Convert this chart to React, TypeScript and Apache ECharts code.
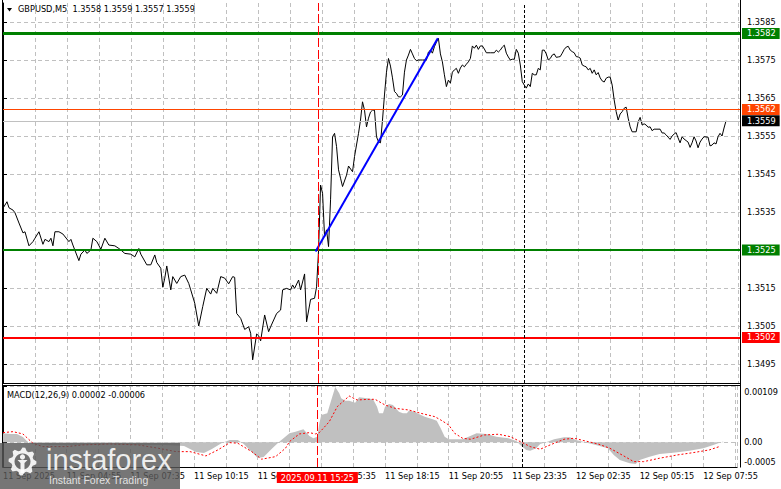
import React, { useEffect, useRef } from 'react';
import * as echarts from 'echarts';

const FONT = 'DejaVu Sans';
const FS = 8.2;

// ---- x axis (bar index, 5-minute bars) ----
const xMax = 369;
const xTickIndex = [0, 32, 64, 96, 128, 160, 192, 224, 256, 288, 320, 352];
const xTickLabels = [
  '11 Sep 2025', '11 Sep 04:55', '11 Sep 07:35', '11 Sep 10:15', '11 Sep 12:55', '11 Sep 15:35',
  '11 Sep 18:15', '11 Sep 20:55', '11 Sep 23:35', '12 Sep 02:35', '12 Sep 05:15', '12 Sep 07:55',
];

// ---- price pane ----
const priceMin = 1.349;
const priceMax = 1.359;
const priceTicks = [1.3495, 1.3505, 1.3515, 1.3525, 1.3535, 1.3545, 1.3555, 1.3565, 1.3575, 1.3585];

const price: [number, number][] = [
  [0, 1.3536], [2, 1.35377], [3, 1.35361], [5, 1.35355], [6, 1.35348], [8, 1.35321], [10, 1.35295], [11, 1.35298],
  [13, 1.35261], [15, 1.35272], [16, 1.35281], [18, 1.35298], [20, 1.35265], [21, 1.35278], [23, 1.35272], [24, 1.35281],
  [25, 1.35261], [26, 1.35298], [28, 1.35298], [30, 1.35292], [33, 1.35272], [34, 1.35278], [35, 1.35263], [38, 1.35222],
  [39, 1.35239], [41, 1.3525], [42, 1.35241], [44, 1.3525], [45, 1.35281], [47, 1.35272], [49, 1.35252], [51, 1.35281],
  [53, 1.35263], [56, 1.35261], [58, 1.35254], [59, 1.3525], [61, 1.35241], [64, 1.35239], [66, 1.35232], [68, 1.35254],
  [69, 1.35239], [72, 1.35211], [74, 1.35211], [76, 1.35237], [77, 1.35217], [79, 1.35202], [80, 1.35152], [81, 1.35176],
  [82, 1.35208], [84, 1.35145], [85, 1.3518], [87, 1.35162], [89, 1.3518], [91, 1.35184], [93, 1.35162], [94, 1.35145],
  [96, 1.3511], [98, 1.3505], [100, 1.35101], [102, 1.35149], [104, 1.35134], [105, 1.35149], [107, 1.35136], [109, 1.3518],
  [111, 1.35176], [113, 1.35161], [115, 1.3518], [116, 1.35178], [117, 1.35083], [119, 1.3507], [121, 1.35041], [123, 1.35048],
  [124, 1.35031], [125, 1.34961], [127, 1.35029], [128, 1.35024], [129, 1.35011], [131, 1.35079], [133, 1.35035], [134, 1.35048],
  [137, 1.35083], [139, 1.35092], [140, 1.35145], [142, 1.35149], [144, 1.35145], [145, 1.35158], [146, 1.35149], [148, 1.35171],
  [149, 1.35145], [151, 1.35187], [152, 1.35061], [154, 1.3512], [156, 1.35123], [157, 1.35153], [158, 1.3525],
  [159, 1.35421], [160, 1.35399], [161, 1.35285], [162, 1.35303], [163, 1.35259], [164, 1.35382], [165, 1.35548], [166, 1.35557],
  [167, 1.35522], [168, 1.35461], [169, 1.35439], [170, 1.35417], [172, 1.35447], [173, 1.35471], [175, 1.35456], [176, 1.35496],
  [178, 1.35557], [179, 1.35592], [180, 1.3564], [181, 1.35618], [182, 1.35574], [183, 1.35597], [184, 1.35613], [185, 1.35618],
  [186, 1.35618], [187, 1.35548], [188, 1.35535], [189, 1.35532], [190, 1.35592], [191, 1.35658], [192, 1.35718], [193, 1.35754],
  [194, 1.35734], [195, 1.35703], [196, 1.35667], [197, 1.35662], [198, 1.35653], [199, 1.35653], [200, 1.35658], [201, 1.35718],
  [202, 1.3575], [203, 1.35763], [204, 1.35778], [205, 1.35766], [206, 1.35754], [207, 1.35748], [208, 1.3575], [210, 1.3575],
  [212, 1.3575], [213, 1.35771], [214, 1.35776], [215, 1.35768], [216, 1.35785], [217, 1.35797], [218, 1.35807], [219, 1.35766],
  [220, 1.35745], [221, 1.35711], [222, 1.3568], [223, 1.35697], [224, 1.35689], [225, 1.35718], [226, 1.35724], [227, 1.35728],
  [228, 1.35715], [229, 1.35729], [230, 1.35737], [231, 1.35732], [232, 1.35739], [233, 1.35745], [234, 1.35754], [235, 1.35787],
  [236, 1.35781], [237, 1.35789], [238, 1.35778], [239, 1.35787], [240, 1.35787], [241, 1.35779], [242, 1.35769], [244, 1.35769],
  [246, 1.35769], [247, 1.35776], [248, 1.35771], [249, 1.35776], [250, 1.35784], [251, 1.35789], [252, 1.35768], [253, 1.35758],
  [254, 1.3575], [255, 1.35752], [256, 1.35752], [257, 1.35778], [258, 1.35768], [259, 1.35737], [260, 1.35693], [261, 1.35684],
  [262, 1.35676], [263, 1.35687], [264, 1.3568], [265, 1.35715], [266, 1.35711], [267, 1.35711], [268, 1.35728], [269, 1.35724],
  [270, 1.35776], [271, 1.35776], [272, 1.35766], [273, 1.3575], [274, 1.35754], [275, 1.35763], [276, 1.35766], [277, 1.35757],
  [278, 1.35758], [279, 1.35759], [280, 1.35768], [281, 1.35778], [282, 1.35784], [283, 1.35786], [284, 1.35776], [285, 1.35772],
  [286, 1.35769], [287, 1.35759], [288, 1.35758], [289, 1.35755], [290, 1.35737], [291, 1.35734], [292, 1.35732], [293, 1.35724],
  [294, 1.35728], [295, 1.35715], [296, 1.35724], [297, 1.35711], [298, 1.35717], [299, 1.35703], [300, 1.35695], [301, 1.35692],
  [302, 1.35702], [303, 1.35705], [304, 1.35705], [305, 1.35684], [306, 1.35645], [307, 1.35614], [308, 1.35592], [309, 1.35608],
  [310, 1.35614], [311, 1.35623], [312, 1.35626], [313, 1.35597], [314, 1.35574], [315, 1.35561], [317, 1.35561], [318, 1.35587],
  [319, 1.35599], [320, 1.35579], [321, 1.35582], [322, 1.35579], [323, 1.35573], [324, 1.35574], [325, 1.35564], [326, 1.35568],
  [329, 1.35568], [330, 1.35558], [331, 1.35558], [332, 1.35553], [333, 1.35547], [334, 1.35541], [335, 1.3555], [336, 1.35555],
  [337, 1.35559], [338, 1.35545], [339, 1.35532], [340, 1.35548], [341, 1.35542], [342, 1.35538], [343, 1.35534], [344, 1.3552],
  [345, 1.35532], [346, 1.35548], [347, 1.35537], [348, 1.35519], [349, 1.35534], [350, 1.35542], [351, 1.35548], [353, 1.35547],
  [354, 1.35524], [355, 1.35526], [356, 1.35532], [357, 1.35529], [358, 1.35548], [359, 1.35557], [360, 1.3555], [361, 1.35571],
  [362, 1.3559],
];

const levelValues = [1.3582, 1.3562, 1.3559, 1.3525, 1.3502];
const levelLineColors = ['#008000', '#ff4500', '#c0c0c0', '#008000', '#ff0000'];
const levelBoxColors = ['#008000', '#ff4500', '#000000', '#008000', '#ff0000'];
const levelWidths = [3, 1, 1, 2, 2];

const trendLine: [number, number][] = [[156.5, 1.35246], [217.7, 1.35807]];
const sessionMarkIndex = 158;
const sessionMarkLabel = '2025.09.11 15:25';
const daySeparatorIndex = 261;

// ---- MACD pane ----
const macdMin = -0.00048;
const macdMax = 0.00109;
const macdLabelValues = [macdMin, 0, macdMax];
const macdLabelTexts = ['-0.0005', '0.00', '0.00109'];

const macdHist: [number, number][] = [
  [0, 0.000174], [4, 0.000161], [7, 0.000161], [10, 0.000103], [12, 0.000025], [14, -0.000033], [24, -0.000052], [38, -0.000052],
  [53, -0.000043], [68, -0.000052], [81, -0.000052], [91, -0.000072], [97, -0.000188], [101, -0.000207], [105, -0.00013], [110, -0.000014],
  [114, 0.000045], [118, 0.000045], [121, -0.000033], [125, -0.000188], [128, -0.000304], [131, -0.000285], [135, -0.00013], [139, 0.000012],
  [141, 0.000077], [144, 0.000174], [147, 0.000205], [151, 0.000252], [154, 0.000122], [156, 0.000077], [158, 0.000108], [159, 0.000368],
  [160, 0.000529], [163, 0.000561], [165, 0.000819], [167, 0.00107], [169, 0.000949], [170, 0.000852], [172, 0.000805], [174, 0.000805],
  [177, 0.000767], [179, 0.000871], [183, 0.000852], [186, 0.000832], [188, 0.000689], [189, 0.000561], [191, 0.000561], [192, 0.000689],
  [194, 0.000741], [196, 0.000722], [199, 0.000592], [201, 0.000561], [203, 0.000561], [204, 0.000612], [207, 0.000592], [209, 0.000548],
  [212, 0.000496], [216, 0.000445], [218, 0.000418], [220, 0.000271], [222, 0.000108], [224, 0.000058], [228, 0.000058], [231, 0.000058],
  [234, 0.000108], [238, 0.000174], [243, 0.000161], [248, 0.000108], [254, 0.000077], [258, 0.000025], [260, -0.000052], [263, -0.000149],
  [265, -0.000163], [268, -0.000116], [270, -0.000033], [274, 0.000012], [277, 0.000058], [282, 0.000097], [285, 0.000097], [288, 0.000045],
  [294, -0.000014], [298, -0.000052], [304, -0.000116], [307, -0.000246], [310, -0.000343], [315, -0.000407], [318, -0.00042], [320, -0.000343],
  [325, -0.000279], [330, -0.000227], [338, -0.000201], [345, -0.000163], [352, -0.000116], [357, -0.000052], [362, 0.000012],
];

const macdSignal: [number, number][] = [
  [0, 0.000186], [5, 0.000205], [10, 0.000161], [15, -0.000019], [20, -0.000085], [32, -0.000085], [40, -0.000052], [54, -0.000033],
  [68, -0.000052], [78, -0.000116], [87, -0.000182], [94, -0.000182], [102, -0.000265], [108, -0.000149], [114, -0.000008], [118, -0.000019],
  [125, -0.000182], [130, -0.000329], [137, -0.000279], [142, -0.000116], [144, 0.000012], [147, 0.000103], [149, 0.000161], [154, 0.000186],
  [157, 0.000161], [159, 0.000186], [164, 0.000399], [168, 0.000689], [174, 0.000896], [178, 0.000819], [184, 0.000832], [187, 0.000832],
  [192, 0.000722], [197, 0.000658], [204, 0.000625], [210, 0.000561], [217, 0.000496], [220, 0.000432], [224, 0.000335], [227, 0.000174],
  [231, 0.000077], [235, 0.000058], [242, 0.000141], [249, 0.000155], [255, 0.000108], [260, 0.000012], [265, -0.000085], [270, -0.000136],
  [275, -0.000052], [282, 0.000058], [287, 0.000077], [292, 0.000031], [299, -0.000033], [305, -0.000116], [312, -0.000265], [317, -0.000376],
  [322, -0.000376], [330, -0.00031], [339, -0.000246], [347, -0.000201], [355, -0.000149], [360, -0.000085],
];

const titleText = 'GBPUSD,M5  1.3558 1.3559 1.3557 1.3559';
const macdTitle = 'MACD(12,26,9) 0.00002 -0.00006';

const GRID_DASH = [4, 3];

function gearPoints(cx: number, cy: number, rOut: number, rIn: number, teeth: number) {
  const pts: number[][] = [];
  const n = teeth * 4;
  for (let k = 0; k < n; k++) {
    const a = (k / n) * Math.PI * 2 - Math.PI / 2;
    const r = k % 4 === 0 || k % 4 === 1 ? rOut : rIn;
    pts.push([cx + r * Math.cos(a), cy + r * Math.sin(a)]);
  }
  return pts;
}

function buildOption() {
  const levelMarks = levelValues.map((v, k) => [
    {
      coord: [0, v],
      lineStyle: { color: levelLineColors[k], width: levelWidths[k], type: 'solid' },
      label: {
        show: true,
        position: 'end',
        distance: 2,
        formatter: v.toFixed(4),
        backgroundColor: levelBoxColors[k],
        color: '#ffffff',
        fontFamily: FONT,
        fontSize: FS,
        lineHeight: 10,
        padding: [1, 4, 0, 5],
      },
    },
    { coord: [xMax, v] },
  ]);

  const xAxisBase = {
    type: 'value',
    min: 0,
    max: xMax,
    interval: 16,
    splitLine: { show: true, lineStyle: { color: '#c0c0c0', type: GRID_DASH, width: 1 } },
    axisTick: { show: false },
  };

  return {
    animation: false,
    backgroundColor: '#ffffff',
    textStyle: { fontFamily: FONT },
    title: [
      { text: titleText, left: 18, top: 5, padding: 0, textStyle: { fontFamily: FONT, fontSize: FS, fontWeight: 'normal', color: '#000' } },
      { text: macdTitle, left: 7, top: 391, padding: 0, textStyle: { fontFamily: FONT, fontSize: FS, fontWeight: 'normal', color: '#000' } },
    ],
    grid: [
      { left: 3, right: 41, top: 3, height: 380 },
      { left: 3, right: 41, top: 386, height: 81 },
    ],
    xAxis: [
      {
        ...xAxisBase,
        gridIndex: 0,
        axisLine: { show: false },
        axisLabel: { show: false },
      },
      {
        ...xAxisBase,
        gridIndex: 1,
        axisLine: { show: true, onZero: false, lineStyle: { color: '#000', width: 1 } },
        axisLabel: {
          show: true,
          customValues: xTickIndex,
          align: 'left',
          margin: 5,
          color: '#000',
          fontFamily: FONT,
          fontSize: FS,
          formatter: (v: number) => {
            const k = xTickIndex.indexOf(Math.round(v));
            return k >= 0 ? xTickLabels[k] : '';
          },
        },
      },
    ],
    yAxis: [
      {
        type: 'value',
        gridIndex: 0,
        position: 'right',
        min: priceMin,
        max: priceMax,
        axisLine: { show: true, lineStyle: { color: '#000', width: 1 } },
        axisTick: { show: true, length: 4, customValues: priceTicks, lineStyle: { color: '#000' } },
        axisLabel: {
          show: true,
          customValues: priceTicks,
          margin: 7,
          color: '#000',
          fontFamily: FONT,
          fontSize: FS,
          formatter: (v: number) => v.toFixed(4),
        },
        splitLine: { show: true, lineStyle: { color: '#c0c0c0', type: GRID_DASH, width: 1 } },
      },
      {
        type: 'value',
        gridIndex: 1,
        position: 'right',
        min: macdMin,
        max: macdMax,
        axisLine: { show: true, lineStyle: { color: '#000', width: 1 } },
        axisTick: { show: true, length: 4, customValues: macdLabelValues, lineStyle: { color: '#000' } },
        axisLabel: {
          show: true,
          customValues: macdLabelValues,
          margin: 7,
          color: '#000',
          fontFamily: FONT,
          fontSize: FS,
          formatter: (v: number) => {
            let best = 0;
            macdLabelValues.forEach((m, k) => {
              if (Math.abs(m - v) < Math.abs(macdLabelValues[best] - v)) best = k;
            });
            const tag = best === 0 ? 'bot' : best === 2 ? 'top' : 'mid';
            return '{' + tag + '|' + macdLabelTexts[best] + '}';
          },
          rich: {
            top: { fontFamily: FONT, fontSize: FS, color: '#000', padding: [12, 0, 0, 0] },
            mid: { fontFamily: FONT, fontSize: FS, color: '#000' },
            bot: { fontFamily: FONT, fontSize: FS, color: '#000', padding: [0, 0, 11, 0] },
          },
        },
        splitLine: { show: true, lineStyle: { color: '#c0c0c0', type: GRID_DASH, width: 1 } },
      },
    ],
    series: [
      {
        name: 'price',
        type: 'line',
        xAxisIndex: 0,
        yAxisIndex: 0,
        data: price,
        symbol: 'none',
        silent: true,
        lineStyle: { color: '#000000', width: 1 },
        z: 3,
        markLine: {
          silent: true,
          symbol: ['none', 'none'],
          precision: 6,
          animation: false,
          emphasis: { disabled: true },
          data: [
            ...levelMarks,
            [
              { coord: trendLine[0], lineStyle: { color: '#0000ff', width: 2, type: 'solid' }, label: { show: false } },
              { coord: trendLine[1] },
            ],
            { xAxis: sessionMarkIndex, lineStyle: { color: '#ff0000', width: 1, type: [9, 3] }, label: { show: false } },
            { xAxis: daySeparatorIndex, lineStyle: { color: '#000000', width: 1, type: [3, 2] }, label: { show: false } },
          ],
        },
      },
      {
        name: 'macd',
        type: 'line',
        xAxisIndex: 1,
        yAxisIndex: 1,
        data: macdHist,
        symbol: 'none',
        silent: true,
        lineStyle: { width: 0, color: '#c0c0c0' },
        areaStyle: { color: '#c0c0c0', opacity: 1 },
        z: 2,
        markLine: {
          silent: true,
          symbol: ['none', 'none'],
          precision: 6,
          animation: false,
          emphasis: { disabled: true },
          data: [
            {
              xAxis: sessionMarkIndex,
              lineStyle: { color: '#ff0000', width: 1, type: [9, 3] },
              label: {
                show: true,
                position: 'start',
                distance: 5,
                formatter: sessionMarkLabel,
                backgroundColor: '#ff0000',
                color: '#ffffff',
                fontFamily: FONT,
                fontSize: FS,
                lineHeight: 10,
                padding: [1, 4, 0, 4],
              },
            },
            { xAxis: daySeparatorIndex, lineStyle: { color: '#000000', width: 1, type: [3, 2] }, label: { show: false } },
          ],
        },
      },
      {
        name: 'signal',
        type: 'line',
        xAxisIndex: 1,
        yAxisIndex: 1,
        data: macdSignal,
        symbol: 'none',
        silent: true,
        lineStyle: { color: '#ff0000', width: 1, type: [2, 2] },
        z: 3,
      },
    ],
    graphic: [
      { type: 'line', silent: true, z: 50, shape: { x1: 2.5, y1: 0, x2: 2.5, y2: 467.5 }, style: { stroke: '#000', lineWidth: 1 } },
      { type: 'line', silent: true, z: 50, shape: { x1: 740.5, y1: 0, x2: 740.5, y2: 467.5 }, style: { stroke: '#000', lineWidth: 1 } },
      { type: 'line', silent: true, z: 50, shape: { x1: 2, y1: 383.5, x2: 741, y2: 383.5 }, style: { stroke: '#000', lineWidth: 1 } },
      { type: 'line', silent: true, z: 50, shape: { x1: 2, y1: 385.5, x2: 741, y2: 385.5 }, style: { stroke: '#000', lineWidth: 1 } },
      { type: 'polygon', silent: true, z: 50, shape: { points: [[7, 8], [12, 8], [9.5, 11.5]] }, style: { fill: '#000' } },
      // watermark logo
      { type: 'rect', silent: true, z: 60, shape: { x: 0, y: 443, width: 180, height: 46 }, style: { fill: 'rgba(88,88,88,0.82)' } },
      { type: 'polygon', silent: true, z: 61, shape: { points: gearPoints(22.5, 461.5, 14, 11, 8) }, style: { fill: 'rgba(255,255,255,0.9)' } },
      { type: 'circle', silent: true, z: 62, shape: { cx: 22.5, cy: 461.5, r: 8 }, style: { fill: 'rgb(110,110,110)' } },
      { type: 'circle', silent: true, z: 63, shape: { cx: 22.5, cy: 457, r: 2.6 }, style: { fill: 'rgba(255,255,255,0.9)' } },
      { type: 'polygon', silent: true, z: 63, shape: { points: [[17.5, 460], [27.5, 460], [24.5, 463], [24.5, 473], [20.5, 473], [20.5, 463]] }, style: { fill: 'rgba(255,255,255,0.9)' } },
      {
        type: 'text', silent: true, z: 63, x: 46, y: 460,
        style: { text: 'instaforex', fill: 'rgba(255,255,255,0.88)', font: 'normal 29px "Liberation Sans"', verticalAlign: 'middle' },
      },
      {
        type: 'text', silent: true, z: 63, x: 49, y: 480,
        style: { text: 'Instant Forex Trading', fill: 'rgba(255,255,255,0.8)', font: 'normal 10.5px "Liberation Sans"', verticalAlign: 'middle' },
      },
    ],
  };
}

export default function App() {
  const ref = useRef<HTMLDivElement>(null);
  useEffect(() => {
    if (!ref.current) return;
    const chart = echarts.init(ref.current, null, { renderer: 'svg' });
    chart.setOption(buildOption() as any);
    return () => chart.dispose();
  }, []);
  return <div ref={ref} style={{ position: 'fixed', left: 0, top: 0, width: 781, height: 489 }} />;
}
